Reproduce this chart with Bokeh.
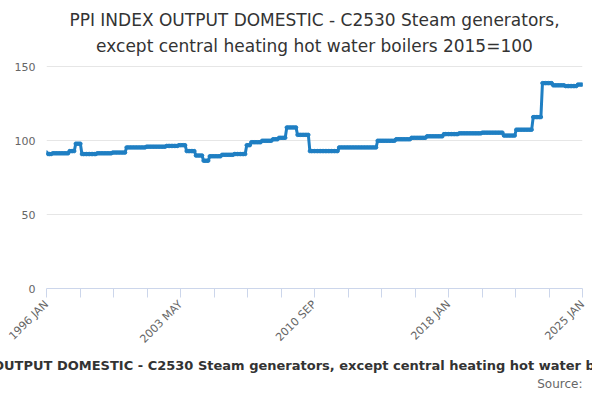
import numpy as np
from bokeh.plotting import figure
from bokeh.models import FixedTicker, ColumnDataSource, Title
from bokeh.embed import file_html
from bokeh.resources import INLINE

# step levels of the index (value, number of months), 1996 JAN .. 2025 JAN
seg_values = [92, 91, 91.5, 93, 98, 91, 91.5, 92, 95.5, 96, 96.5, 97, 93, 90, 86.5,
              89.5, 90.5, 91, 97, 99, 100, 101, 102, 109, 104, 93, 95.5, 100,
              101, 102, 103, 104.5, 105, 105.5, 103.5, 107.5, 116, 139, 137.5, 137, 138]
seg_lengths = [1, 3, 11, 4, 4, 10, 10, 9, 13, 13, 8, 5, 6, 5, 4,
               8, 8, 8, 3, 7, 7, 4, 5, 7, 8, 19, 25, 12,
               10, 10, 11, 10, 15, 14, 8, 11, 6, 7, 8, 8, 4]
values = np.repeat(seg_values, seg_lengths)
months = np.arange(len(values))

tick_pos = [i * 21.75 for i in range(17)]
tick_labels = {0: "1996 JAN", 87: "2003 MAY", 174: "2010 SEP", 261: "2018 JAN", 348: "2025 JAN"}
y_ticks = [0, 50, 100, 150]

p = figure(width=592, height=390, output_backend="svg", toolbar_location=None,
           x_range=(0, 348), y_range=(0, 155),
           min_border_left=46, min_border_right=10, min_border_top=59, min_border_bottom=98)
p.outline_line_color = None
src = ColumnDataSource(dict(x=months, y=values))
p.line("x", "y", source=src, line_color="#1f7fc3", line_width=3)
p.scatter("x", "y", source=src, size=3.5, color="#1f7fc3")

p.xgrid.grid_line_color = None
p.ygrid.grid_line_color = "#e6e6e6"
p.yaxis.ticker = FixedTicker(ticks=y_ticks)
p.yaxis.axis_line_color = None
p.yaxis.major_tick_line_color = None
p.yaxis.minor_tick_line_color = None
p.yaxis.major_label_text_color = "#666666"
p.yaxis.major_label_text_font = "DejaVu Sans"
p.yaxis.major_label_text_font_size = "11px"

p.xaxis.ticker = FixedTicker(ticks=tick_pos)
p.xaxis.major_label_overrides = {t: (tick_labels.get(int(round(t)), "") if abs(t - round(t)) < 1e-9 else "") for t in tick_pos}
p.xaxis.major_label_orientation = 0.785
p.xaxis.axis_line_color = "#ccd6eb"
p.xaxis.major_tick_line_color = "#ccd6eb"
p.xaxis.major_tick_out = 9
p.xaxis.major_tick_in = 0
p.xaxis.minor_tick_line_color = None
p.xaxis.major_label_text_color = "#666666"
p.xaxis.major_label_text_font = "DejaVu Sans"
p.xaxis.major_label_text_font_size = "11px"

for txt, sb in [("except central heating hot water boilers 2015=100", 8),
                ("PPI INDEX OUTPUT DOMESTIC - C2530 Steam generators,", 0)]:
    p.add_layout(Title(text=txt, align="center", text_font="DejaVu Sans",
                       text_font_size="17px", text_font_style="normal",
                       text_color="#333333", standoff=sb), "above")
p.add_layout(Title(text="PPI INDEX OUTPUT DOMESTIC - C2530 Steam generators, except central heating hot water boilers 2015=100",
                   align="center", text_font="DejaVu Sans", text_font_size="13px",
                   text_font_style="bold", text_color="#333333", standoff=4), "below")
p.add_layout(Title(text="Source:", align="right", text_font="DejaVu Sans", text_font_size="12px",
                   text_font_style="normal", text_color="#666666", standoff=0), "below")

open("out.html", "w").write(file_html(p, INLINE))
